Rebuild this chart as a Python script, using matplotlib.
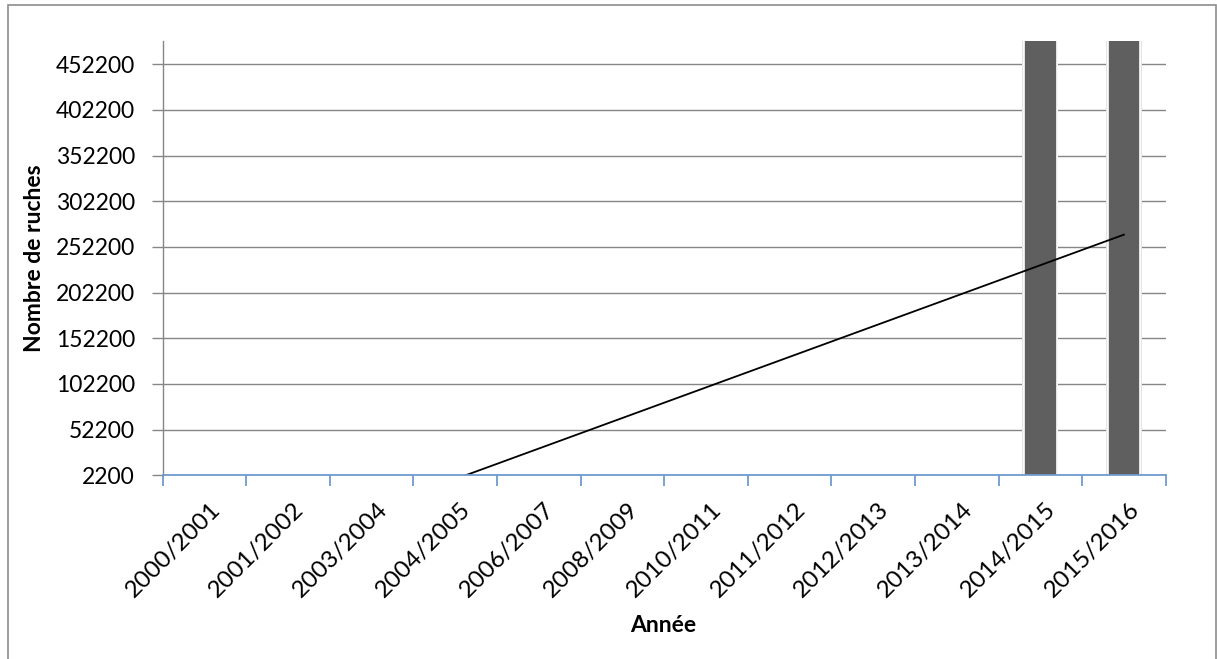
import numpy as np
import matplotlib.pyplot as plt
import matplotlib.transforms as mtransforms
from matplotlib.patches import Rectangle

# Data (the first ten years sit below the 2200 axis floor)
years = ["2000/2001", "2001/2002", "2003/2004", "2004/2005", "2006/2007", "2008/2009",
         "2010/2011", "2011/2012", "2012/2013", "2013/2014", "2014/2015", "2015/2016"]
ruches = [1850, 1900, 1950, 2000, 2000, 2050, 2050, 2100, 2100, 2150, 479000, 481000]
y_ticks = [2200, 52200, 102200, 152200, 202200, 252200, 302200, 352200, 402200, 452200]
y_min, y_max = 2200, 478000

plt.rcParams["font.family"] = ["Lato", "DejaVu Sans"]

fig = plt.figure(figsize=(12.17, 6.59), dpi=100)
ax = fig.add_axes([162.7 / 1217, 1 - 475.3 / 659, (1165.7 - 162.7) / 1217, (475.3 - 40.7) / 659])

x = np.arange(len(years))
# soft shadow behind the bars, then the bars themselves
ax.bar(x, ruches, width=0.43, color="#e4e4e4", zorder=2)
ax.bar(x, ruches, width=0.39, color="#5f5f5f", edgecolor="white", linewidth=1.2, zorder=3)

# linear trend line (Excel style, fitted on category index)
slope, icpt = np.polyfit(x, ruches, 1)
ax.plot(x, slope * x + icpt, color="black", lw=1.3, zorder=4)

ax.set_xlim(-0.5, len(years) - 0.5)
ax.set_ylim(y_min, y_max)
ax.set_yticks(y_ticks)
ax.set_yticklabels([str(v) for v in y_ticks], fontsize=16.5)
ax.yaxis.grid(True, color="#868686", lw=1.0, zorder=1)
ax.set_axisbelow(True)

for s in ["top", "right"]:
    ax.spines[s].set_visible(False)
ax.spines["left"].set_color("#868686")
ax.spines["left"].set_linewidth(1.0)
ax.spines["bottom"].set_color("#6f9bd1")
ax.spines["bottom"].set_linewidth(1.3)
ax.spines["bottom"].set_zorder(5)
ax.tick_params(axis="y", direction="out", length=8, width=1.0, color="#868686", pad=12)

# category boundary ticks (minor) and centred labels (major)
ax.set_xticks(np.arange(len(years) + 1) - 0.5, minor=True)
ax.set_xticks(x)
ax.set_xticklabels(years, fontsize=17.5, rotation=45, ha="right", va="top",
                   rotation_mode="anchor")
ax.tick_params(axis="x", which="major", length=0, pad=17)
ax.tick_params(axis="x", which="minor", direction="out", length=8, width=1.3, color="#6f9bd1")
for lab in ax.get_xticklabels():
    lab.set_transform(lab.get_transform() + mtransforms.ScaledTranslation(5 / 100, 0, fig.dpi_scale_trans))

fig.text(35 / 1217, 1 - 258 / 659, "Nombre de ruches", rotation=90, ha="center", va="center",
         fontsize=16.5, fontweight="bold")
fig.text(663 / 1217, 1 - 625 / 659, "Année", ha="center", va="center", fontsize=16.5, fontweight="bold")

# chart frame
fig.patches.append(Rectangle((7.5 / 1217, -0.05), (1216 - 7.5) / 1217, 1 - 5 / 659 + 0.05,
                             transform=fig.transFigure, fill=False, edgecolor="#8c8c8c", lw=1.2))

fig.savefig("out.png", dpi=100)
